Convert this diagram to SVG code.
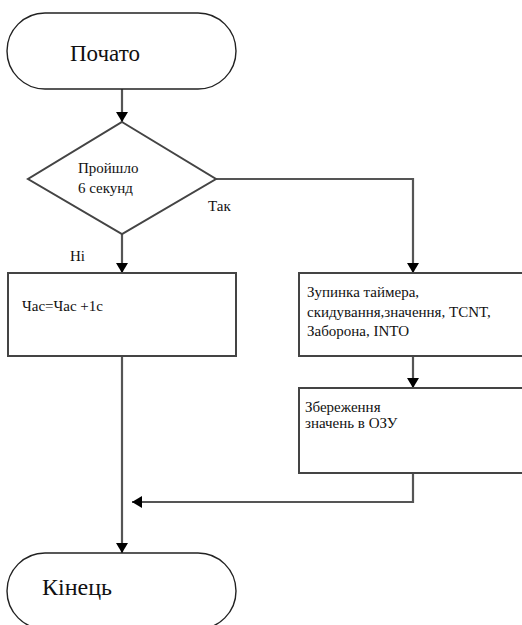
<svg xmlns="http://www.w3.org/2000/svg" width="522" height="625" viewBox="0 0 522 625">
  <defs>
    <marker id="arrow" markerWidth="10" markerHeight="12" refX="10" refY="6" orient="auto" markerUnits="userSpaceOnUse">
      <path d="M0,0 L10,6 L0,12 Z" fill="#000000"/>
    </marker>
  </defs>
  <rect width="522" height="625" fill="#ffffff"/>

  <!-- connectors: gray flow lines with black arrowheads -->
  <g id="connectors" fill="none" stroke="#555555" stroke-width="2.2">
    <path d="M122,89 L122,122" marker-end="url(#arrow)"/>
    <path d="M122,234 L122,273" marker-end="url(#arrow)"/>
    <path d="M216,179 L413,179 L413,273" marker-end="url(#arrow)"/>
    <path d="M413,356 L413,388" marker-end="url(#arrow)"/>
    <path d="M122,356 L122,553" marker-end="url(#arrow)"/>
    <path d="M413,473 L413,502 L132,502" marker-end="url(#arrow)"/>
  </g>
  <g id="branch-labels" fill="#111111" stroke="none">
    <text font-family="Liberation Serif" font-size="15" x="208" y="211">Так</text>
    <text font-family="Liberation Serif" font-size="15" x="70" y="261">Ні</text>
  </g>

  <g id="start">
    <rect x="7" y="13" width="229" height="76" rx="38" ry="38" fill="#ffffff" stroke="#222222" stroke-width="1.4"/>
    <text font-family="Liberation Serif" font-size="23" fill="#111111" x="70" y="61">Почато</text>
  </g>

  <g id="check">
    <polygon points="122,122 216,179 122,234 28,179" fill="#ffffff" stroke="#444444" stroke-width="2"/>
    <text font-family="Liberation Serif" font-size="15" fill="#111111" x="78" y="173">Пройшло</text>
    <text font-family="Liberation Serif" font-size="15" fill="#111111" x="78" y="193">6 секунд</text>
  </g>

  <g id="increment">
    <rect x="8" y="273" width="228" height="83" fill="#ffffff" stroke="#444444" stroke-width="2"/>
    <text font-family="Liberation Serif" font-size="15" fill="#111111" x="22" y="311">Час=Час +1с</text>
  </g>

  <g id="stop-timer">
    <rect x="299" y="273" width="240" height="83" fill="#ffffff" stroke="#444444" stroke-width="2"/>
    <text font-family="Liberation Serif" font-size="15" fill="#111111" x="307" y="297">Зупинка таймера,</text>
    <text font-family="Liberation Serif" font-size="15" fill="#111111" x="307" y="317">скидування,значення, TCNT,</text>
    <text font-family="Liberation Serif" font-size="15" fill="#111111" x="307" y="336">Заборона, INTO</text>
  </g>

  <g id="save">
    <rect x="299" y="388" width="240" height="85" fill="#ffffff" stroke="#444444" stroke-width="2"/>
    <text font-family="Liberation Serif" font-size="15" fill="#111111" x="305" y="412">Збереження</text>
    <text font-family="Liberation Serif" font-size="15" fill="#111111" x="305" y="428">значень в ОЗУ</text>
  </g>

  <g id="end">
    <rect x="7" y="553" width="229" height="76" rx="38" ry="38" fill="#ffffff" stroke="#222222" stroke-width="1.4"/>
    <text font-family="Liberation Serif" font-size="24" fill="#111111" x="42" y="595">Кінець</text>
  </g>
</svg>
